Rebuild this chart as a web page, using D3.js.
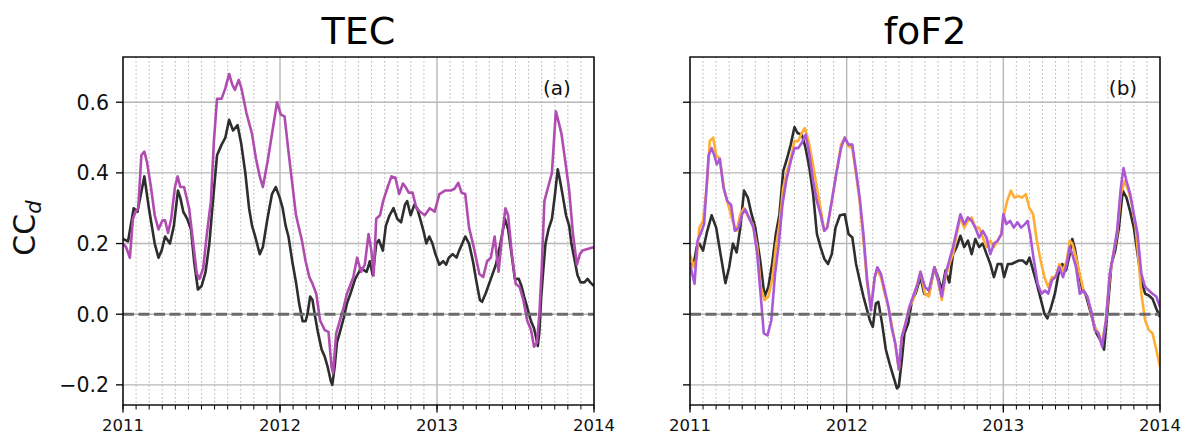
<!DOCTYPE html>
<html>
<head>
<meta charset="utf-8">
<script src="https://cdn.jsdelivr.net/npm/d3@7"></script>
<style>
  body { margin: 0; background: #fff; }
  svg { font-family: "DejaVu Sans", sans-serif; }
</style>
</head>
<body>
<svg id="chart" width="1186" height="436"></svg>
<script>
// Data (time = years after 1 Jan 2011)

// TEC panel, black curve
const tecBlackT = [0, .032, .068, .092, .136, .165, .202, .226, .246, .268, .299, .324, .350, .365, .384, .409, .433, .453, .477, .501, .526, .550, .569, .599, .628, .652, .676, .701, .730, .754, .779, .803, .822, .842, .871, .891, .920, .949, .973, .998,
  1.017, 1.036, 1.054, 1.078, 1.102, 1.122, 1.144, 1.163, 1.175, 1.192, 1.207, 1.221, 1.241, 1.265, 1.285, 1.304, 1.324, 1.333, 1.348, 1.363, 1.382, 1.406, 1.426, 1.450, 1.479, 1.516, 1.552, 1.572, 1.591, 1.613, 1.630, 1.655, 1.674, 1.698, 1.723, 1.747, 1.771, 1.796, 1.810, 1.832, 1.856, 1.873, 1.893, 1.917, 1.932, 1.951, 1.971, 1.990,
  2.015, 2.039, 2.058, 2.075, 2.100, 2.124, 2.141, 2.161, 2.180, 2.204, 2.229, 2.248, 2.273, 2.287, 2.311, 2.343, 2.375, 2.404, 2.433, 2.453, 2.472, 2.496, 2.521, 2.538, 2.555, 2.574, 2.599, 2.618, 2.633, 2.642, 2.652, 2.664, 2.676, 2.691, 2.710, 2.732, 2.749, 2.769, 2.783, 2.803, 2.822, 2.842, 2.856, 2.878, 2.895, 2.915, 2.939, 2.959, 2.976, 3.000]
const tecBlackV = [.213, .206, .30, .29, .39, .30, .20, .16, .18, .22, .20, .25, .35, .33, .29, .27, .24, .15, .07, .08, .12, .20, .30, .45, .48, .50, .55, .52, .535, .48, .40, .30, .25, .22, .17, .19, .27, .34, .36, .33,
  .30, .25, .22, .15, .09, .03, -.02, -.02, .00, .05, .04, .00, -.05, -.10, -.12, -.15, -.19, -.20, -.15, -.08, -.05, -.01, .03, .06, .10, .13, .12, .15, .11, .20, .21, .18, .25, .28, .30, .27, .26, .31, .32, .28, .31, .30, .27, .23, .20, .22, .20, .17,
  .14, .15, .14, .16, .17, .16, .18, .20, .22, .20, .15, .10, .04, .035, .06, .10, .14, .20, .27, .24, .18, .10, .10, .08, .05, .02, -.02, -.04, -.07, -.09, -.05, .05, .12, .20, .24, .27, .33, .41, .38, .33, .28, .25, .20, .15, .11, .09, .09, .10, .09, .08]

// TEC panel, magenta curve
const tecMagT = [0, .019, .044, .063, .080, .097, .117, .136, .153, .178, .202, .226, .251, .268, .287, .307, .331, .348, .365, .389, .421, .445, .470, .487, .511, .535, .560, .579, .599, .628, .652, .676, .696, .713, .737, .754, .786, .822, .847, .871, .891, .920, .949, .981,
  1.005, 1.029, 1.054, 1.078, 1.102, 1.139, 1.163, 1.187, 1.207, 1.231, 1.255, 1.285, 1.309, 1.328, 1.338, 1.358, 1.382, 1.406, 1.426, 1.443, 1.467, 1.491, 1.516, 1.540, 1.564, 1.582, 1.596, 1.613, 1.637, 1.657, 1.686, 1.710, 1.735, 1.759, 1.783, 1.800, 1.820, 1.844, 1.869, 1.893, 1.922, 1.954, 1.985,
  2.015, 2.051, 2.088, 2.112, 2.136, 2.156, 2.180, 2.204, 2.234, 2.270, 2.294, 2.319, 2.343, 2.367, 2.392, 2.416, 2.436, 2.453, 2.477, 2.501, 2.526, 2.550, 2.574, 2.599, 2.618, 2.637, 2.652, 2.667, 2.684, 2.708, 2.732, 2.757, 2.774, 2.793, 2.818, 2.842, 2.866, 2.891, 2.910, 2.927, 2.964, 3.000]
const tecMagV = [.20, .19, .16, .27, .29, .30, .45, .46, .43, .36, .28, .24, .265, .266, .23, .27, .36, .39, .36, .36, .30, .21, .115, .10, .13, .23, .32, .49, .61, .61, .64, .68, .65, .635, .663, .64, .57, .51, .44, .39, .36, .43, .51, .60,
  .565, .56, .46, .37, .28, .21, .15, .105, .086, .058, -.017, -.045, -.05, -.148, -.167, -.054, -.017, .02, .058, .077, .105, .16, .12, .14, .227, .18, .11, .27, .28, .32, .36, .39, .386, .34, .37, .36, .344, .344, .30, .29, .28, .30, .29,
  .34, .35, .35, .355, .372, .344, .34, .245, .19, .114, .105, .15, .16, .22, .12, .227, .30, .28, .17, .086, .077, .04, -.017, -.045, -.092, -.08, .0, .13, .32, .36, .40, .574, .545, .51, .43, .35, .227, .14, .17, .18, .185, .19]

// foF2 panel: black, orange and purple curves
const fofBlackT = [0, .024, .043, .060, .083, .107, .138, .167, .195, .226, .250, .274, .298, .321, .345, .369, .393, .417, .448, .476, .500, .524, .548, .571, .595, .619, .643, .667, .686, .714, .738, .762, .786, .810, .833, .857, .881, .905, .929, .957, .988,
  1.012, 1.036, 1.060, 1.083, 1.107, 1.131, 1.148, 1.167, 1.186, 1.202, 1.226, 1.250, 1.274, 1.298, 1.321, 1.333, 1.352, 1.369, 1.393, 1.417, 1.440, 1.471, 1.495, 1.524, 1.560, 1.583, 1.607, 1.631, 1.655, 1.679, 1.702, 1.726, 1.750, 1.774, 1.798, 1.821, 1.845, 1.869, 1.893, 1.917, 1.940, 1.964, 1.988,
  2.005, 2.029, 2.052, 2.076, 2.100, 2.124, 2.148, 2.167, 2.190, 2.214, 2.238, 2.262, 2.281, 2.305, 2.329, 2.352, 2.376, 2.400, 2.424, 2.440, 2.457, 2.476, 2.505, 2.524, 2.548, 2.571, 2.595, 2.619, 2.643, 2.667, 2.690, 2.714, 2.738, 2.762, 2.786, 2.810, 2.833, 2.857, 2.881, 2.905, 2.929, 2.952, 2.976, 3.000]
const fofBlackV = [.142, .142, .19, .20, .18, .23, .28, .245, .17, .088, .133, .20, .175, .245, .35, .33, .283, .245, .152, .05, .077, .142, .227, .283, .405, .44, .48, .53, .513, .508, .47, .414, .34, .227, .19, .157, .142, .17, .245, .28, .283,
  .227, .217, .142, .096, .05, .011, -.017, -.036, .03, .035, -.026, -.10, -.14, -.176, -.21, -.204, -.13, -.054, -.026, .04, .058, .105, .058, .053, .133, .105, .067, .124, .09, .17, .19, .222, .19, .208, .17, .213, .19, .20, .17, .142, .105, .142, .142,
  .105, .142, .142, .147, .152, .152, .142, .16, .124, .086, .044, .002, -.012, .02, .058, .114, .142, .124, .17, .213, .185, .133, .067, .058, .02, -.017, -.054, -.073, -.10, .02, .142, .18, .245, .35, .33, .29, .245, .17, .096, .058, .053, .044, .016, -.008]

const fofOrangeT = [0, .024, .043, .060, .083, .107, .126, .148, .167, .190, .219, .250, .274, .298, .321, .345, .369, .400, .429, .452, .476, .500, .524, .548, .571, .595, .619, .643, .667, .690, .714, .733, .757, .781, .810, .833, .857, .876, .905, .933, .964, .988,
  1.012, 1.036, 1.060, 1.083, 1.107, 1.131, 1.155, 1.179, 1.195, 1.219, 1.243, 1.267, 1.286, 1.310, 1.333, 1.352, 1.376, 1.400, 1.424, 1.452, 1.471, 1.500, 1.524, 1.560, 1.583, 1.607, 1.631, 1.655, 1.679, 1.702, 1.726, 1.750, 1.774, 1.798, 1.821, 1.845, 1.869, 1.893, 1.917, 1.940, 1.964, 1.988,
  2.005, 2.024, 2.048, 2.071, 2.095, 2.119, 2.143, 2.167, 2.190, 2.214, 2.238, 2.262, 2.286, 2.310, 2.333, 2.357, 2.381, 2.405, 2.424, 2.440, 2.464, 2.488, 2.512, 2.536, 2.560, 2.583, 2.607, 2.631, 2.655, 2.679, 2.702, 2.726, 2.750, 2.774, 2.798, 2.821, 2.845, 2.862, 2.881, 2.905, 2.929, 2.952, 2.976, 3.000]
const fofOrangeV = [.17, .133, .16, .245, .264, .358, .49, .50, .45, .44, .35, .30, .26, .236, .283, .30, .278, .255, .19, .077, .04, .05, .096, .19, .255, .358, .405, .44, .49, .49, .513, .527, .49, .433, .358, .30, .236, .245, .32, .396, .48, .50,
  .475, .47, .396, .32, .208, .086, .02, .105, .124, .105, .058, .02, -.026, -.082, -.157, -.064, -.026, .02, .04, .086, .12, .058, .05, .133, .096, .04, .105, .142, .17, .227, .274, .245, .264, .274, .245, .245, .217, .19, .208, .19, .208, .227,
  .283, .32, .35, .33, .335, .33, .34, .30, .283, .208, .152, .105, .077, .105, .105, .142, .124, .152, .208, .20, .16, .114, .067, .05, .007, -.036, -.054, -.082, -.017, .105, .17, .227, .34, .377, .35, .31, .245, .16, .058, -.017, -.045, -.054, -.10, -.148]

const fofPurpleT = [0, .029, .048, .067, .090, .119, .138, .155, .171, .190, .214, .238, .262, .286, .310, .333, .352, .376, .405, .429, .452, .471, .495, .519, .543, .567, .590, .614, .643, .667, .690, .714, .738, .762, .786, .810, .833, .857, .876, .905, .933, .964, .988,
  1.012, 1.036, 1.060, 1.083, 1.107, 1.131, 1.155, 1.179, 1.195, 1.219, 1.243, 1.267, 1.286, 1.310, 1.333, 1.352, 1.376, 1.400, 1.424, 1.452, 1.471, 1.500, 1.524, 1.560, 1.583, 1.607, 1.631, 1.655, 1.679, 1.702, 1.726, 1.750, 1.774, 1.798, 1.821, 1.845, 1.869, 1.893, 1.917, 1.940, 1.964, 1.988,
  2.000, 2.019, 2.043, 2.067, 2.090, 2.114, 2.138, 2.155, 2.171, 2.195, 2.219, 2.243, 2.267, 2.286, 2.310, 2.333, 2.357, 2.381, 2.405, 2.424, 2.440, 2.464, 2.488, 2.512, 2.536, 2.560, 2.583, 2.607, 2.631, 2.655, 2.679, 2.702, 2.726, 2.750, 2.767, 2.786, 2.810, 2.833, 2.857, 2.881, 2.905, 2.929, 2.952, 2.976, 3.000]
const fofPurpleV = [.142, .086, .208, .227, .255, .45, .47, .45, .424, .44, .358, .32, .31, .236, .245, .283, .297, .274, .245, .17, .05, -.054, -.06, -.017, .114, .20, .31, .377, .433, .47, .47, .485, .508, .452, .377, .32, .283, .236, .245, .32, .396, .47, .50,
  .48, .48, .405, .33, .227, .096, .011, .105, .133, .114, .067, .02, -.036, -.082, -.157, -.064, -.026, .02, .05, .086, .12, .077, .067, .133, .096, .05, .114, .152, .19, .236, .283, .255, .274, .264, .245, .217, .236, .217, .17, .20, .208, .227,
  .283, .255, .264, .245, .26, .245, .255, .264, .227, .152, .086, .058, .067, .058, .096, .105, .133, .105, .142, .19, .17, .133, .058, .067, .05, .011, -.045, -.054, -.092, -.017, .114, .17, .236, .358, .414, .377, .34, .283, .227, .114, .077, .067, .058, .05, .02]

const yTicks = [-0.2, 0.0, 0.2, 0.4, 0.6]
const years = [2011, 2012, 2013, 2014]

// Layout
const svg = d3.select("#chart")
const plotTop = 57, plotBottom = 405
const y = d3.scaleLinear().domain([-0.257, 0.728]).range([plotBottom, plotTop])

function drawPanel(x0, x1, title, tag, series, showYLabels) {
  const x = d3.scaleLinear().domain([2011, 2014]).range([x0, x1])
  const g = svg.append("g")
  const months = d3.range(0, 37).map(m => 2011 + m / 12)

  // minor grid (monthly, dotted)
  g.selectAll(".minor").data(months.filter((m, i) => i % 12 !== 0))
    .enter().append("line")
    .attr("x1", d => x(d)).attr("x2", d => x(d))
    .attr("y1", plotTop).attr("y2", plotBottom)
    .attr("stroke", "#b4b4b4").attr("stroke-width", 1)
    .attr("stroke-dasharray", "1.5,2.5")

  // major grid
  g.selectAll(".vmaj").data(years)
    .enter().append("line")
    .attr("x1", d => x(d)).attr("x2", d => x(d))
    .attr("y1", plotTop).attr("y2", plotBottom)
    .attr("stroke", "#b8b8b8").attr("stroke-width", 1.4)
  g.selectAll(".hmaj").data(yTicks)
    .enter().append("line")
    .attr("x1", x0).attr("x2", x1)
    .attr("y1", d => y(d)).attr("y2", d => y(d))
    .attr("stroke", "#b8b8b8").attr("stroke-width", 1.4)

  // series
  const clipId = "clip" + tag
  svg.append("clipPath").attr("id", clipId).append("rect")
    .attr("x", x0).attr("y", plotTop).attr("width", x1 - x0).attr("height", plotBottom - plotTop)
  const line = d3.line().x(d => x(2011 + d[0])).y(d => y(d[1]))
  series.forEach(s => {
    g.append("path")
      .datum(d3.zip(s.t, s.v))
      .attr("clip-path", `url(#${clipId})`)
      .attr("d", line)
      .attr("fill", "none")
      .attr("stroke", s.color)
      .attr("stroke-width", 2.6)
      .attr("stroke-linejoin", "round")
  })

  // zero line
  g.append("line")
    .attr("x1", x0).attr("x2", x1)
    .attr("y1", y(0)).attr("y2", y(0))
    .attr("stroke", "#6b6b6b").attr("stroke-width", 3)
    .attr("stroke-dasharray", "11,4.5")

  // frame
  g.append("rect")
    .attr("x", x0).attr("y", plotTop).attr("width", x1 - x0).attr("height", plotBottom - plotTop)
    .attr("fill", "none").attr("stroke", "#000").attr("stroke-width", 1.4)

  // x axis ticks
  g.selectAll(".xminor").data(months)
    .enter().append("line")
    .attr("x1", d => x(d)).attr("x2", d => x(d))
    .attr("y1", plotBottom).attr("y2", plotBottom + 4.5)
    .attr("stroke", "#000").attr("stroke-width", 1)
  g.selectAll(".xmajor").data(years)
    .enter().append("line")
    .attr("x1", d => x(d)).attr("x2", d => x(d))
    .attr("y1", plotBottom).attr("y2", plotBottom + 7.5)
    .attr("stroke", "#000").attr("stroke-width", 1.3)
  g.selectAll(".xlab").data(years)
    .enter().append("text")
    .attr("x", d => x(d)).attr("y", 431)
    .attr("text-anchor", "middle")
    .attr("font-size", 16.5).attr("fill", "#111")
    .text(d => d)

  // y ticks
  g.selectAll(".ytick").data(yTicks)
    .enter().append("line")
    .attr("x1", x0 - 7).attr("x2", x0)
    .attr("y1", d => y(d)).attr("y2", d => y(d))
    .attr("stroke", "#000").attr("stroke-width", 1.3)
  if (showYLabels) {
    g.selectAll(".ylab").data(yTicks)
      .enter().append("text")
      .attr("x", x0 - 14).attr("y", d => y(d))
      .attr("dy", "0.36em")
      .attr("text-anchor", "end")
      .attr("font-size", 20.5).attr("fill", "#111")
      .text(d => d3.format(".1f")(d).replace("-", "\u2212"))
  }

  // title and panel tag
  g.append("text")
    .attr("x", (x0 + x1) / 2).attr("y", 44)
    .attr("text-anchor", "middle").attr("font-size", 38)
    .text(title)
  g.append("text")
    .attr("x", x1 - 37).attr("y", 95)
    .attr("text-anchor", "middle").attr("font-size", 20).attr("fill", "#111")
    .text(`(${tag})`)
}

drawPanel(123, 594, "TEC", "a", [
  { t: tecBlackT, v: tecBlackV, color: "#2e2e2e" },
  { t: tecMagT, v: tecMagV, color: "#b04cb0" }
], true)

drawPanel(690, 1160, "foF2", "b", [
  { t: fofBlackT, v: fofBlackV, color: "#2e2e2e" },
  { t: fofOrangeT, v: fofOrangeV, color: "#ffad33" },
  { t: fofPurpleT, v: fofPurpleV, color: "#aa58d6" }
], false)

// y axis label
const yl = svg.append("text")
  .attr("transform", "translate(35,228) rotate(-90)")
  .attr("text-anchor", "middle")
  .attr("font-size", 30).attr("fill", "#111")
yl.append("tspan").text("CC")
yl.append("tspan").attr("font-style", "italic").attr("font-size", 21)
  .attr("dy", 6).text("d")
</script>
</body>
</html>
